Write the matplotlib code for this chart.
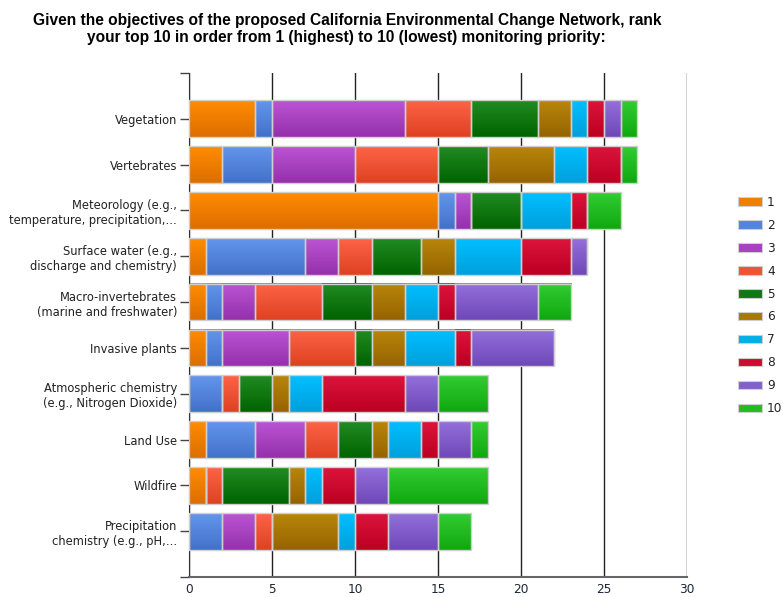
import numpy as np
import matplotlib
matplotlib.use('Agg')
import matplotlib.pyplot as plt
from matplotlib.colors import LinearSegmentedColormap
from matplotlib.patches import Patch

categories = [
    'Vegetation',
    'Vertebrates',
    'Meteorology (e.g.,\ntemperature, precipitation,\u2026',
    'Surface water (e.g.,\ndischarge and chemistry)',
    'Macro-invertebrates\n(marine and freshwater)',
    'Invasive plants',
    'Atmospheric chemistry\n(e.g., Nitrogen Dioxide)',
    'Land Use',
    'Wildfire',
    'Precipitation\nchemistry (e.g., pH,\u2026',
]
ranks = ['1', '2', '3', '4', '5', '6', '7', '8', '9', '10']

# counts per category for each rank 1..10
vegetation    = [4, 1, 8, 4, 4, 2, 1, 1, 1, 1]
vertebrates   = [2, 3, 5, 5, 3, 4, 2, 2, 0, 1]
meteorology   = [15, 1, 1, 0, 3, 0, 3, 1, 0, 2]
surface_water = [1, 6, 2, 2, 3, 2, 4, 3, 1, 0]
macro_inv     = [1, 1, 2, 4, 3, 2, 2, 1, 5, 2]
invasive      = [1, 1, 4, 4, 1, 2, 3, 1, 5, 0]
atmospheric   = [0, 2, 0, 1, 2, 1, 2, 5, 2, 3]
land_use      = [1, 3, 3, 2, 2, 1, 2, 1, 2, 1]
wildfire      = [1, 0, 0, 1, 4, 1, 1, 2, 2, 6]
precip_chem   = [0, 2, 2, 1, 0, 4, 1, 2, 3, 2]

counts = np.array([vegetation, vertebrates, meteorology, surface_water, macro_inv,
                   invasive, atmospheric, land_use, wildfire, precip_chem])

top_colors = ['#FF8C00', '#6495ED', '#BA55D3', '#FF6347', '#228B22',
              '#B8860B', '#00BFFF', '#DC143C', '#9370DB', '#32CD32']
bot_colors = ['#DD6E00', '#4272C8', '#9630AC', '#DE4222', '#006400',
              '#966400', '#00A0DC', '#BC0022', '#7048B8', '#10A810']
mid_colors = ['#F07E00', '#5582DC', '#A840C0', '#F05236', '#0F7812',
              '#A67808', '#00AEEA', '#CC0C30', '#8260CA', '#20BC20']

fig = plt.figure(figsize=(7.83, 5.97), dpi=100)
ax = fig.add_axes([189 / 783, 1 - 577 / 597, (687 - 189) / 783, (577 - 73) / 597])

y = np.arange(len(categories))[::-1]
left = np.zeros(len(categories))
grad = np.linspace(0, 1, 32).reshape(-1, 1)
for j in range(len(ranks)):
    vals = counts[:, j]
    bars = ax.barh(y, vals, left=left, height=0.8, facecolor='none',
                   edgecolor='#cfcfcf', linewidth=1, zorder=3)
    cmap = LinearSegmentedColormap.from_list('g%d' % j, [bot_colors[j], top_colors[j]])
    for p in bars.patches:
        if p.get_width() == 0:
            continue
        x0, y0 = p.get_x(), p.get_y()
        ax.imshow(grad, cmap=cmap, aspect='auto', origin='lower', zorder=2,
                  extent=(x0, x0 + p.get_width(), y0, y0 + p.get_height()),
                  interpolation='bilinear')
    left += vals

ax.set_xlim(0, 30)
ax.set_ylim(-1, len(categories))
ax.set_aspect('auto')

ax.set_xticks(np.arange(0, 31, 5))
ax.set_yticks(y, categories)
ax.set_yticks([-1, len(categories)], minor=True)
ax.tick_params(axis='y', which='both', length=6.5, width=1, color='#444',
               labelsize=8.3, labelcolor='#222', pad=2)
ax.tick_params(axis='x', length=0, labelsize=8.7, labelcolor='#1c2636', pad=4)

ax.set_axisbelow(True)
ax.xaxis.grid(True, color='#222', linewidth=1)
for s in ['top', 'right']:
    ax.spines[s].set_visible(False)
ax.spines['left'].set_color('#333')
ax.spines['bottom'].set_color('#666')
ax.spines['bottom'].set_linewidth(1.5)

handles = [Patch(facecolor=c, edgecolor='#cfcfcf', linewidth=0.8) for c in mid_colors]
fig.legend(handles, ranks, loc='center left', bbox_to_anchor=(738 / 783, 1 - 305.5 / 597),
           frameon=False, fontsize=8.7, handlelength=2.0, handleheight=0.7,
           labelspacing=0.82, handletextpad=0.4, borderpad=0, borderaxespad=0,
           labelcolor='#222')

fig.text(0.443, 0.978,
         'Given the objectives of the proposed California Environmental Change Network, rank\n'
         'your top 10 in order from 1 (highest) to 10 (lowest) monitoring priority:',
         ha='center', va='top', fontsize=11.2, fontweight='bold',
         family='Liberation Sans', linespacing=1.15)

fig.savefig('out.png', dpi=100)
